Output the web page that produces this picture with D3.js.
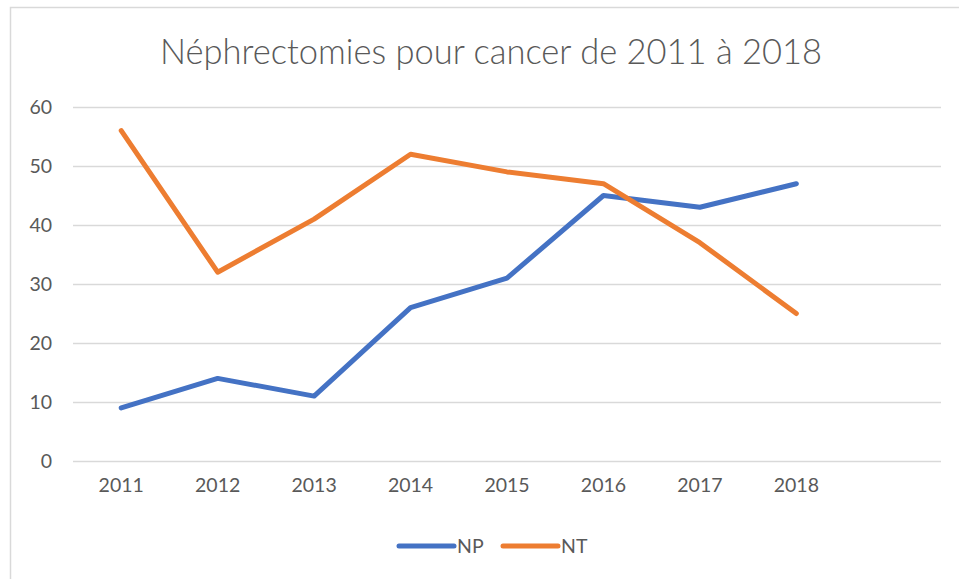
<!DOCTYPE html>
<html><head><meta charset="utf-8">
<script src="https://cdn.jsdelivr.net/npm/d3@7"></script>
<style>body{margin:0;background:#fff;} svg{display:block;}</style>
</head><body>
<svg id="c" width="959" height="579"></svg>
<script>
const categories = ["2011","2012","2013","2014","2015","2016","2017","2018",""];
const npValues = [9,14,11,26,31,45,43,47];
const ntValues = [56,32,41,52,49,47,37,25];
const yTicks = [0,10,20,30,40,50,60];
const seriesNames = ["NP","NT"];
const colors = ["#4472C4","#ED7D31"];

(function(){
const svg = d3.select("#c");
const font = "Lato, 'Open Sans', sans-serif";
svg.append("rect").attr("x",10.5).attr("y",7.5).attr("width",1000).attr("height",1000)
  .attr("fill","#fff").attr("stroke","#d9d9d9").attr("stroke-width",1.5);

const pl=73, pr=941, pt=107, pb=461;
const x = d3.scaleBand().domain(categories).range([pl,pr]);
const y = d3.scaleLinear().domain([0,60]).range([pb,pt]);

svg.append("text").attr("x",491).attr("y",64).attr("text-anchor","middle")
  .attr("font-family",font).attr("font-weight",300).attr("font-size",34.5).attr("fill","#595959")
  .text("Néphrectomies pour cancer de 2011 à 2018");

const grid = svg.append("g");
grid.selectAll("line").data(yTicks).join("line")
  .attr("x1",pl).attr("x2",pr).attr("y1",d=>Math.round(y(d))+0.5).attr("y2",d=>Math.round(y(d))+0.5)
  .attr("stroke","#d9d9d9").attr("stroke-width",1.5);

const yAxis = svg.append("g").attr("transform",`translate(${pl},0)`)
  .call(d3.axisLeft(y).tickValues(yTicks).tickSize(0).tickPadding(21));
yAxis.select(".domain").remove();
yAxis.selectAll("text").attr("font-family",font).attr("font-size",19.5).attr("fill","#595959");

const xAxis = svg.append("g").attr("transform",`translate(0,${pb})`)
  .call(d3.axisBottom(x).tickSize(0).tickPadding(17));
xAxis.select(".domain").remove();
xAxis.selectAll("text").attr("font-family",font).attr("font-size",19.5).attr("fill","#595959");

const cx = c => x(c) + x.bandwidth()/2;
const line = d3.line().x((d,i)=>cx(categories[i])).y(d=>y(d));
[npValues, ntValues].forEach((vals,k)=>{
  svg.append("path").datum(vals).attr("d",line).attr("fill","none")
    .attr("stroke",colors[k]).attr("stroke-width",5)
    .attr("stroke-linecap","round").attr("stroke-linejoin","round");
});

const legX = [399, 503];
seriesNames.forEach((n,k)=>{
  svg.append("line").attr("x1",legX[k]).attr("x2",legX[k]+55).attr("y1",546).attr("y2",546)
    .attr("stroke",colors[k]).attr("stroke-width",5).attr("stroke-linecap","round");
  svg.append("text").attr("x",legX[k]+58).attr("y",553).attr("font-family",font).attr("font-size",19.5)
    .attr("fill","#595959").text(n);
});
})();
</script>
</body></html>
